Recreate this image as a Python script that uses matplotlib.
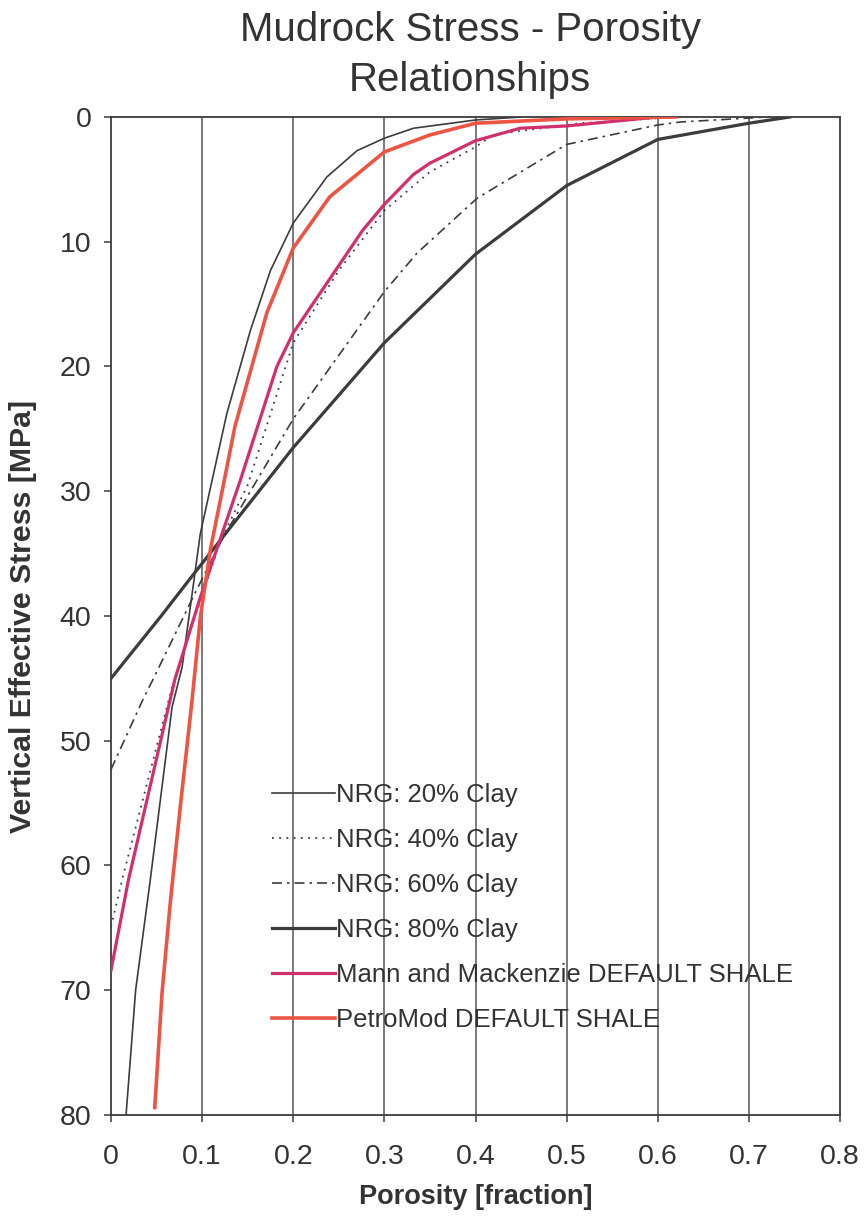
import matplotlib
matplotlib.use("Agg")
import matplotlib.pyplot as plt

plt.rcParams['font.family'] = ['Liberation Sans', 'DejaVu Sans']

# porosity [fraction] vs vertical effective stress [MPa]
por_20 = [0.0165, 0.027, 0.043, 0.067, 0.078, 0.098, 0.127, 0.153, 0.175, 0.2, 0.237, 0.27, 0.3, 0.332, 0.4, 0.45]
str_20 = [80, 70, 61.2, 47.3, 44.1, 33.4, 23.8, 17.1, 12.3, 8.5, 4.8, 2.7, 1.7, 0.9, 0.24, 0]

por_40 = [0, 0.013, 0.067, 0.1, 0.12, 0.15, 0.2, 0.25, 0.3, 0.35, 0.4, 0.42, 0.515, 0.62]
str_40 = [64.9, 60.9, 45.7, 38.3, 34.0, 29.5, 18.1, 12.3, 7.5, 4.4, 2.4, 1.4, 0.5, 0]

por_60 = [0, 0.035, 0.046, 0.094, 0.123, 0.2, 0.3, 0.336, 0.402, 0.5, 0.6, 0.625, 0.72]
str_60 = [52.3, 46.7, 45.1, 37.9, 33.7, 24.2, 14.0, 10.9, 6.5, 2.2, 0.64, 0.4, 0]

por_80 = [0, 0.055, 0.089, 0.2, 0.3, 0.4, 0.5, 0.6, 0.7, 0.745]
str_80 = [45, 40, 36.8, 26.5, 18.1, 11.0, 5.5, 1.8, 0.5, 0]

por_mm = [0, 0.019, 0.07, 0.098, 0.142, 0.182, 0.2, 0.276, 0.3, 0.332, 0.35, 0.4, 0.449, 0.5, 0.6]
str_mm = [68.4, 61.2, 45.1, 38.5, 29.1, 20.0, 17.3, 9.1, 7.0, 4.6, 3.7, 1.9, 0.9, 0.72, 0]

por_pm = [0.048, 0.056, 0.065, 0.076, 0.089, 0.098, 0.109, 0.12, 0.136, 0.171, 0.2, 0.24, 0.3, 0.35, 0.4, 0.5, 0.62]
str_pm = [79.4, 70.2, 63.0, 55.3, 46.7, 40.1, 34.7, 30.7, 24.8, 15.7, 10.5, 6.4, 2.8, 1.44, 0.5, 0.15, 0]

x_ticks = [0, 0.1, 0.2, 0.3, 0.4, 0.5, 0.6, 0.7, 0.8]
x_labels = ['0', '0.1', '0.2', '0.3', '0.4', '0.5', '0.6', '0.7', '0.8']
y_ticks = [0, 10, 20, 30, 40, 50, 60, 70, 80]

dark = '#3c3c3c'
txt = '#333333'

fig = plt.figure(figsize=(8.64, 12.25), dpi=100)
ax = fig.add_axes([0.1285, 0.0898, 0.8437, 0.8147])

# vertical grid lines
for xv in x_ticks[1:-1]:
    ax.axvline(xv, color='#555555', lw=1.1, zorder=1)

ax.plot(por_20, str_20, color=dark, lw=1.2, label='NRG: 20% Clay', zorder=3)
ax.plot(por_40, str_40, color=dark, lw=1.3, dashes=(1, 3), label='NRG: 40% Clay', zorder=3)
ax.plot(por_60, str_60, color=dark, lw=1.2, dashes=(6, 3, 1.5, 3), label='NRG: 60% Clay', zorder=3)
ax.plot(por_80, str_80, color=dark, lw=2.3, label='NRG: 80% Clay', zorder=3)
ax.plot(por_mm, str_mm, color='#d2306c', lw=2.3, label='Mann and Mackenzie DEFAULT SHALE', zorder=4)
ax.plot(por_pm, str_pm, color='#ee5444', lw=2.6, label='PetroMod DEFAULT SHALE', zorder=4)

ax.set_xlim(0, 0.8)
ax.set_ylim(80, 0)
ax.set_xticks(x_ticks)
ax.set_xticklabels(x_labels)
ax.set_yticks(y_ticks)
ax.tick_params(direction='out', length=5, width=1.1, color=dark, labelsize=20.5,
               labelcolor=txt)
ax.tick_params(axis='x', pad=16)
ax.tick_params(axis='y', pad=9)
for s in ax.spines.values():
    s.set_color(dark)
    s.set_linewidth(1.3)

ax.set_xlabel('Porosity [fraction]', fontsize=19.5, fontweight='bold', color=txt)
ax.set_ylabel('Vertical Effective Stress [MPa]', fontsize=21.8, fontweight='bold', color=txt)
ax.xaxis.set_label_coords(0.5, -0.069)
ax.yaxis.set_label_coords(-0.102, 0.5)

fig.text(0.544, 1 - 55 / 1225, 'Mudrock Stress - Porosity\nRelationships',
         ha='center', va='center', fontsize=29, color=txt, linespacing=1.38)

leg = ax.legend(loc='upper left', bbox_to_anchor=(0.221, 0.333), frameon=False,
                fontsize=18.5, handlelength=2.45, handletextpad=0.05,
                labelspacing=0.82, borderpad=0, borderaxespad=0)
for t in leg.get_texts():
    t.set_color(txt)

fig.savefig('out.png', dpi=100)
